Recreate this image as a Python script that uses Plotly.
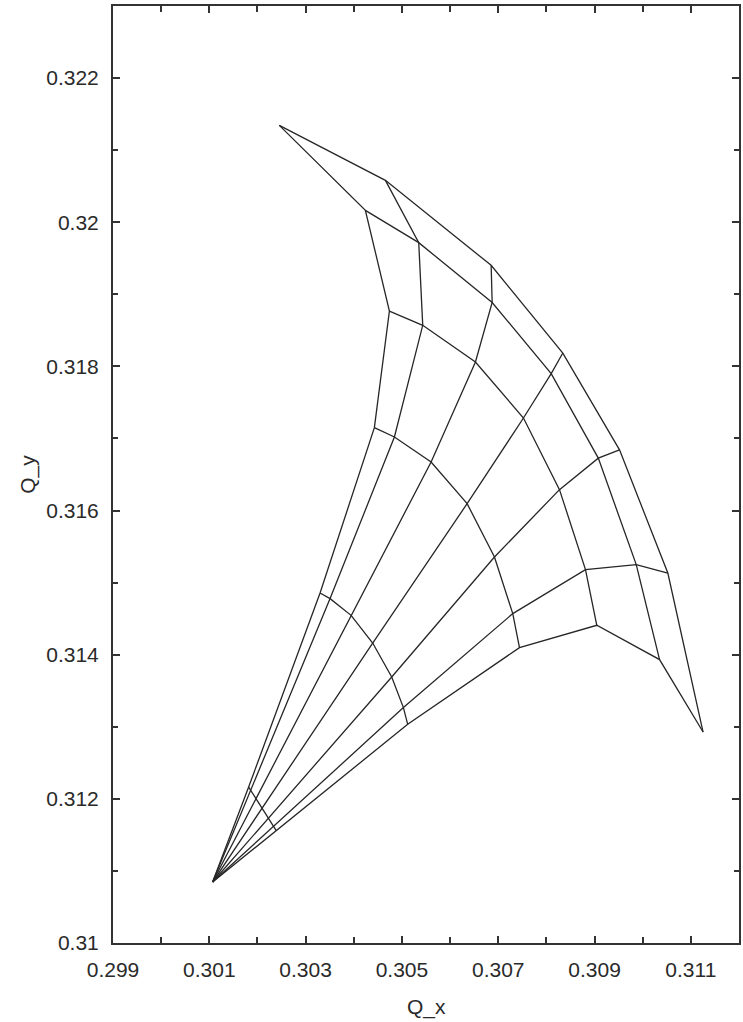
import plotly.graph_objects as go

# Common origin of all radial lines
origin_qx = 0.301069
origin_qy = 0.310846

# Grid nodes: one row per level (inner -> outer), one column per radial line (left -> right)
qx_grid = [
    [0.301817, 0.301858, 0.301968, 0.302095, 0.302226, 0.302332, 0.302390],
    [0.303300, 0.303508, 0.303944, 0.304393, 0.304788, 0.305031, 0.305120],
    [0.304428, 0.304844, 0.305606, 0.306354, 0.306922, 0.307302, 0.307441],
    [0.304740, 0.305432, 0.306527, 0.307524, 0.308272, 0.308812, 0.309047],
    [0.304241, 0.305349, 0.306874, 0.308100, 0.309078, 0.309866, 0.310350],
    [0.302454, 0.304657, 0.306853, 0.308341, 0.309519, 0.310522, 0.311254],
]
qy_grid = [
    [0.312164, 0.312120, 0.312005, 0.311870, 0.311731, 0.311619, 0.311559],
    [0.314856, 0.314778, 0.314546, 0.314162, 0.313690, 0.313266, 0.313034],
    [0.317150, 0.317020, 0.316673, 0.316096, 0.315355, 0.314570, 0.314098],
    [0.318768, 0.318570, 0.318061, 0.317284, 0.316290, 0.315180, 0.314408],
    [0.320165, 0.319717, 0.318886, 0.317900, 0.316727, 0.315250, 0.313932],
    [0.321344, 0.320581, 0.319402, 0.318185, 0.316842, 0.315133, 0.312927],
]

LINE = dict(color="#262626", width=1.3)
AXIS = "#333333"
FONT = "Liberation Sans, Arial, sans-serif"
TEXT = "#2a2a2a"

fig = go.Figure()

# Cross lines (one per level)
for xs, ys in zip(qx_grid, qy_grid):
    fig.add_trace(go.Scatter(x=xs, y=ys, mode="lines", line=LINE,
                             hoverinfo="skip", showlegend=False))

# Radial lines from the origin through every level
n_rad = len(qx_grid[0])
for j in range(n_rad):
    xs = [origin_qx] + [row[j] for row in qx_grid]
    ys = [origin_qy] + [row[j] for row in qy_grid]
    fig.add_trace(go.Scatter(x=xs, y=ys, mode="lines", line=LINE,
                             hoverinfo="skip", showlegend=False))

axis_common = dict(
    showgrid=False, zeroline=False,
    showline=True, linecolor=AXIS, linewidth=2, mirror="ticks",
    ticks="inside", ticklen=7, tickwidth=1.5, tickcolor=AXIS,
    tickfont=dict(family=FONT, size=21, color=TEXT),
)

fig.update_xaxes(
    range=[0.299, 0.312], tickmode="linear", tick0=0.299, dtick=0.002,
    tickformat=".3~f", ticklabelstandoff=7,
    minor=dict(dtick=0.001, tick0=0.299, ticks="inside", ticklen=6,
               tickwidth=1.5, tickcolor=AXIS),
    **axis_common,
)
fig.update_yaxes(
    range=[0.31, 0.323], tickmode="linear", tick0=0.31, dtick=0.002,
    tickformat=".3~f", ticklabelstandoff=8,
    minor=dict(dtick=0.001, tick0=0.31, ticks="inside", ticklen=5,
               tickwidth=1.5, tickcolor=AXIS),
    **axis_common,
)

fig.update_layout(
    width=743, height=1022,
    margin=dict(l=113, r=4, t=6, b=79, autoexpand=False),
    plot_bgcolor="white", paper_bgcolor="white",
    annotations=[
        dict(text="Q_x", xref="paper", yref="paper", x=0.5, y=-0.068,
             xanchor="center", yanchor="middle", showarrow=False,
             font=dict(family=FONT, size=21, color=TEXT)),
        dict(text="Q_y", xref="paper", yref="paper", x=-0.137, y=0.5,
             xanchor="center", yanchor="middle", showarrow=False, textangle=-90,
             font=dict(family=FONT, size=21, color=TEXT)),
    ],
)

fig.write_html("out.html")
